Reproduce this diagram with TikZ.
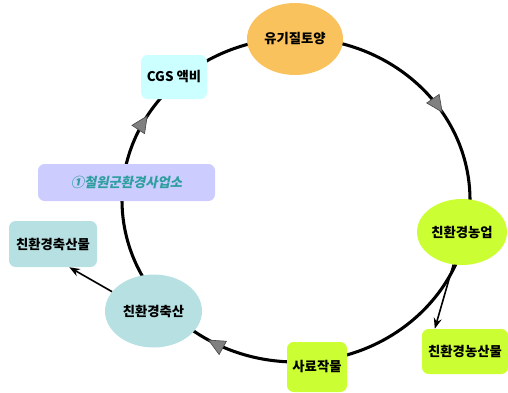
\documentclass[tikz,border=0pt]{standalone}
\usepackage{fontspec}
\newfontfamily\kr{Noto Sans CJK KR}
\newfontfamily\krit{Noto Sans CJK KR}[FakeSlant=0.2]
\usetikzlibrary{arrows.meta,shapes.geometric,decorations.markings}
\definecolor{orng}{HTML}{F9C25C}
\definecolor{cyanbox}{HTML}{CCFFFF}
\definecolor{purp}{HTML}{CCCCFF}
\definecolor{tealtxt}{HTML}{2E9E9E}
\definecolor{ltteal}{HTML}{B7E0E2}
\definecolor{ygreen}{HTML}{CCFF33}
\tikzset{
  lbl/.style={inner sep=0pt, font=\kr\bfseries\fontsize{10pt}{12pt}\selectfont, text=black},
  oval/.style={lbl, ellipse},
  rbox/.style={lbl, rectangle, rounded corners=5pt},
  gtip/.style={},
  ring/.style={line width=2.3pt, black,
    postaction={decorate},
    decoration={markings,
      mark=at position 0.162 with {\arrow{Triangle[length=13pt,width=12pt,fill=gray,color=gray!60!black,line width=0.5pt]}},
      mark=at position 0.587 with {\arrow{Triangle[length=13pt,width=12pt,fill=gray,color=gray!60!black,line width=0.5pt]}},
      mark=at position 0.835 with {\arrow{Triangle[length=13pt,width=12pt,fill=gray,color=gray!60!black,line width=0.5pt]}}}},
  link/.style={line width=1.2pt, -{Stealth[length=8pt,width=6pt]}}
}
\begin{document}
\begin{tikzpicture}[x=0.75pt,y=-0.75pt]
\useasboundingbox (0,0) rectangle (508,393);
\coordinate (ctop) at (296,38);
\draw[ring] (ctop) arc[start angle=90, end angle=-270, x radius=130.5pt, y radius=121.5pt];

\node[oval, fill=orng, minimum width=72pt, minimum height=54pt] (soil) at (295,39) {유기질토양};
\node[rbox, fill=cyanbox, minimum width=49.5pt, minimum height=33pt] (cgs) at (174,77) {CGS 액비};
\node[rbox, fill=purp, minimum width=132.75pt, minimum height=27.75pt, font=\krit\bfseries\fontsize{10pt}{12pt}\selectfont, text=tealtxt] (office) at (126.5,182.5) {①철원군환경사업소};
\node[rbox, fill=ltteal, minimum width=66pt, minimum height=34.5pt] (livep) at (53,244) {친환경축산물};
\node[oval, fill=ltteal, minimum width=72.75pt, minimum height=54.75pt] (live) at (153.5,311) {친환경축산};
\node[rbox, fill=ygreen, minimum width=45pt, minimum height=37.5pt] (feed) at (317,367) {사료작물};
\node[oval, fill=ygreen, minimum width=67.5pt, minimum height=49.5pt] (farm) at (462,232) {친환경농업};
\node[rbox, fill=ygreen, minimum width=64.5pt, minimum height=33.75pt] (farmp) at (465,351.5) {친환경농산물};

\draw[link] (live.155) -- (livep.-55);
\draw[link] (farm.-105) -- (farmp.143);
\end{tikzpicture}
\end{document}
